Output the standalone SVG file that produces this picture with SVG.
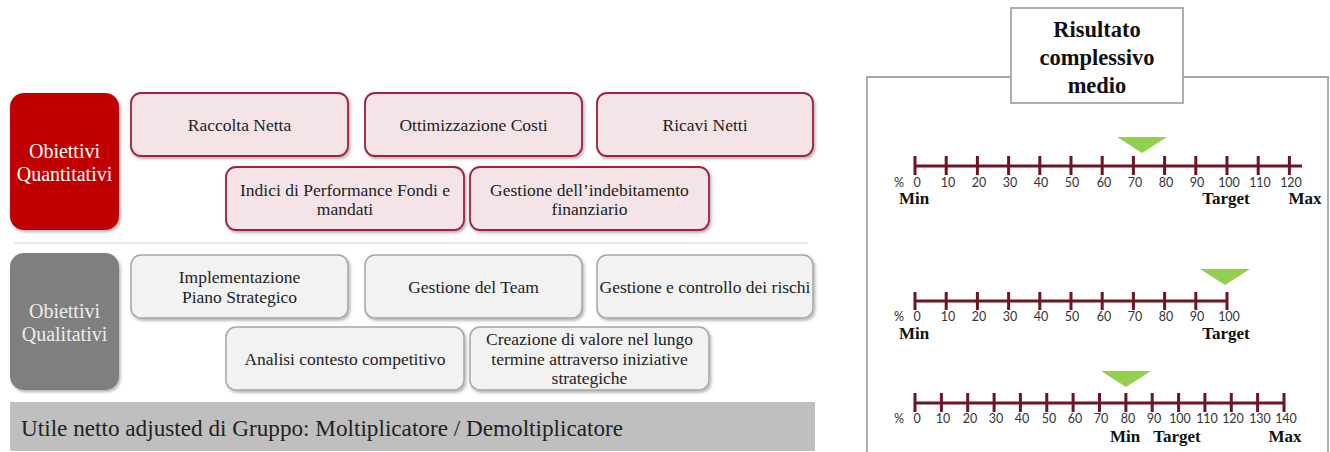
<svg xmlns="http://www.w3.org/2000/svg" width="1330" height="452" viewBox="0 0 1330 452">
<defs>
<filter id="sh" x="-10%" y="-10%" width="125%" height="130%"><feDropShadow dx="1.5" dy="2" stdDeviation="1.5" flood-color="#000" flood-opacity="0.3"/></filter>
</defs>
<style>
.q{fill:#F4E4E7;stroke:#A0203F;stroke-width:1.8;filter:url(#sh)}
.l{fill:#F2F2F2;stroke:#A6A6A6;stroke-width:1.5;filter:url(#sh)}
.t{font-family:"Liberation Serif",serif;font-size:17.5px;fill:#222;text-anchor:middle}
.h{font-family:"Liberation Serif",serif;font-size:20px;text-anchor:middle}
.b{font-family:"Liberation Serif",serif;font-size:17px;font-weight:bold;fill:#111;text-anchor:middle}
.n{font-family:Lato,"Open Sans",sans-serif;font-size:12.5px;fill:#333;text-anchor:middle}
.ax{stroke:#6E1423;stroke-width:3;fill:none}
.tri{fill:#92D050}
</style>
<rect x="0" y="0" width="1330" height="452" fill="#fff"/>
<line x1="14" y1="243" x2="808" y2="243" stroke="#D0D0D0" stroke-width="1.2"/>

<g id="quantitativi"><rect x="10" y="93" width="109" height="137" rx="14" fill="#C00000" filter="url(#sh)"/><text class="h" fill="#fff"><tspan x="64.5" y="158">Obiettivi</tspan><tspan x="64.5" y="181">Quantitativi</tspan></text></g>
<g id="raccolta"><rect class="q" x="131" y="93" width="217" height="63" rx="10"/><text class="t" x="239.5" y="131">Raccolta Netta</text></g>
<g id="ottimizzazione"><rect class="q" x="365" y="93" width="217" height="63" rx="10"/><text class="t" x="473.5" y="131">Ottimizzazione Costi</text></g>
<g id="ricavi"><rect class="q" x="597" y="93" width="216" height="63" rx="10"/><text class="t" x="705" y="131">Ricavi Netti</text></g>
<g id="indici"><rect class="q" x="226" y="167" width="238" height="63" rx="10"/><text class="t"><tspan x="345" y="196">Indici di Performance Fondi e</tspan><tspan x="345" y="215">mandati</tspan></text></g>
<g id="indebitamento"><rect class="q" x="470" y="167" width="239" height="63" rx="10"/><text class="t"><tspan x="589.5" y="196">Gestione dell’indebitamento</tspan><tspan x="589.5" y="215">finanziario</tspan></text></g>

<g id="qualitativi"><rect x="10" y="253" width="109" height="137" rx="14" fill="#7F7F7F" filter="url(#sh)"/><text class="h" fill="#EDEDED"><tspan x="64.5" y="318">Obiettivi</tspan><tspan x="64.5" y="341">Qualitativi</tspan></text></g>
<g id="implementazione"><rect class="l" x="131" y="255" width="217" height="63" rx="10"/><text class="t"><tspan x="239.5" y="283">Implementazione</tspan><tspan x="239.5" y="303">Piano Strategico</tspan></text></g>
<g id="team"><rect class="l" x="365" y="255" width="217" height="63" rx="10"/><text class="t" x="473.5" y="293">Gestione del Team</text></g>
<g id="rischi"><rect class="l" x="597" y="255" width="216" height="63" rx="10"/><text class="t" x="705" y="293">Gestione e controllo dei rischi</text></g>
<g id="analisi"><rect class="l" x="226" y="327" width="238" height="63" rx="10"/><text class="t" x="345" y="365">Analisi contesto competitivo</text></g>
<g id="creazione"><rect class="l" x="470" y="327" width="239" height="63" rx="10"/><text class="t"><tspan x="589.5" y="345">Creazione di valore nel lungo</tspan><tspan x="589.5" y="365">termine attraverso iniziative</tspan><tspan x="589.5" y="384">strategiche</tspan></text></g>

<g id="utile"><rect x="10" y="402" width="805" height="49" fill="#BFBFBF"/><text x="21" y="436" font-family="'Liberation Serif',serif" font-size="23.2" fill="#222">Utile netto adjusted di Gruppo: Moltiplicatore / Demoltiplicatore</text></g>

<g id="risultato-frame"><path d="M1011 77 H867 V460 M1183 77 H1328 V460" fill="none" stroke="#A6A6A6" stroke-width="1.8"/>
<rect x="1011" y="8" width="172" height="95" fill="#fff" stroke="#A6A6A6" stroke-width="1.8"/>
<text font-family="'Liberation Serif',serif" font-size="22.5" font-weight="bold" fill="#111" text-anchor="middle"><tspan x="1097" y="37">Risultato</tspan><tspan x="1097" y="65">complessivo</tspan><tspan x="1097" y="93">medio</tspan></text></g>

<g id="scale1">
<path class="ax" d="M915 166 H1302 M915 156 V175 M946.2 156 V175 M977.4 156 V175 M1008.6 156 V175 M1039.8 156 V175 M1071 156 V175 M1102.2 156 V175 M1133.4 156 V175 M1164.6 156 V175 M1195.8 156 V175 M1227 156 V175 M1258.2 156 V175 M1289.4 156 V175"/>
<polygon class="tri" points="1117,137 1167,137 1142,153"/>
<text class="n" x="899" y="187" font-size="11">%</text>
<text class="n" y="187"><tspan x="917">0</tspan><tspan x="948">10</tspan><tspan x="979">20</tspan><tspan x="1010">30</tspan><tspan x="1041">40</tspan><tspan x="1072">50</tspan><tspan x="1104">60</tspan><tspan x="1135">70</tspan><tspan x="1166">80</tspan><tspan x="1197">90</tspan><tspan x="1229">100</tspan><tspan x="1260">110</tspan><tspan x="1291">120</tspan></text>
<text class="b" x="914" y="204">Min</text><text class="b" x="1226" y="204">Target</text><text class="b" x="1305" y="204">Max</text>
</g>

<g id="scale2">
<path class="ax" d="M915 301 H1227 M915 292 V310 M946.2 292 V310 M977.4 292 V310 M1008.6 292 V310 M1039.8 292 V310 M1071 292 V310 M1102.2 292 V310 M1133.4 292 V310 M1164.6 292 V310 M1195.8 292 V310 M1227 292 V310"/>
<polygon class="tri" points="1200,269 1250,269 1225,285"/>
<text class="n" x="899" y="321" font-size="11">%</text>
<text class="n" y="321"><tspan x="917">0</tspan><tspan x="948">10</tspan><tspan x="979">20</tspan><tspan x="1010">30</tspan><tspan x="1041">40</tspan><tspan x="1072">50</tspan><tspan x="1104">60</tspan><tspan x="1135">70</tspan><tspan x="1166">80</tspan><tspan x="1197">90</tspan><tspan x="1229">100</tspan></text>
<text class="b" x="914" y="339">Min</text><text class="b" x="1226" y="339">Target</text>
</g>

<g id="scale3">
<path class="ax" d="M915 403 H1284 M915 393 V412 M941.4 393 V412 M967.7 393 V412 M994.1 393 V412 M1020.4 393 V412 M1046.8 393 V412 M1073.1 393 V412 M1099.5 393 V412 M1125.9 393 V412 M1152.2 393 V412 M1178.6 393 V412 M1204.9 393 V412 M1231.3 393 V412 M1257.6 393 V412 M1284 393 V412"/>
<polygon class="tri" points="1101,371 1151,371 1126,387"/>
<text class="n" x="899" y="423" font-size="11">%</text>
<text class="n" y="423"><tspan x="917">0</tspan><tspan x="943">10</tspan><tspan x="970">20</tspan><tspan x="996">30</tspan><tspan x="1022">40</tspan><tspan x="1049">50</tspan><tspan x="1075">60</tspan><tspan x="1101">70</tspan><tspan x="1128">80</tspan><tspan x="1154">90</tspan><tspan x="1180">100</tspan><tspan x="1207">110</tspan><tspan x="1233">120</tspan><tspan x="1260">130</tspan><tspan x="1286">140</tspan></text>
<text class="b" x="1125" y="442">Min</text><text class="b" x="1177" y="442">Target</text><text class="b" x="1285" y="442">Max</text>
</g>
</svg>
